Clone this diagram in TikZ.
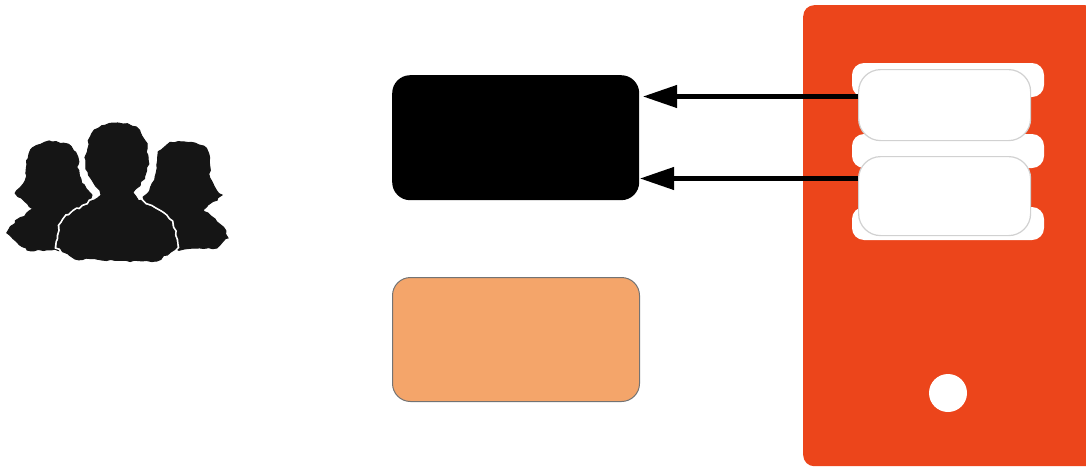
\documentclass[tikz,border=0pt]{standalone}
\usetikzlibrary{arrows.meta,decorations.pathmorphing}
\definecolor{srvred}{HTML}{EC451B}
\definecolor{boxorange}{HTML}{F4A56A}
\definecolor{figblack}{HTML}{151515}
\tikzset{
  bigbox/.style={rounded corners=18pt,minimum width=247pt,minimum height=125pt,inner sep=0pt,anchor=north west},
  slot/.style={draw=black!18,line width=1.2pt,fill=white,rounded corners=22pt,inner sep=0pt,anchor=north west},
  tabpart/.style={fill=white,rounded corners=12pt},
  arr/.style={draw=black,line width=4.2pt,-{Triangle[length=34pt,width=22pt]}},
  person/.style={fill=figblack,draw=figblack,line width=1pt,decorate,decoration={random steps,segment length=4pt,amplitude=1.2pt}},
  personfront/.style={person,preaction={draw=white,line width=4.5pt}}
}
\begin{document}
\begin{tikzpicture}[x=1pt,y=-1pt]
\useasboundingbox (0,0) rectangle (1086,466);
% people
\path[person] (52,142) .. controls (36,142) and (27,148) .. (27,165) .. controls (27,178) and (24,186) .. (15,193)
  -- (33,209) .. controls (24,216) and (12,222) .. (7,233) -- (27,250) -- (75,250) -- (92,195) .. controls (84,188) and (78,178) .. (78,165) .. controls (78,148) and (68,142) .. (52,142) -- cycle;
\path[person] (183,142) .. controls (166,142) and (157,148) .. (157,165) .. controls (157,178) and (152,188) .. (143,197)
  -- (160,250) -- (217,248) -- (228,238) .. controls (224,226) and (212,216) .. (203,210) -- (222,195) .. controls (213,188) and (209,178) .. (210,165) .. controls (210,148) and (200,142) .. (183,142) -- cycle;
\path[personfront] (117,123) .. controls (96,123) and (87,134) .. (86,160) .. controls (86,172) and (93,182) .. (100,190)
  .. controls (100,200) and (78,208) .. (64,220) .. controls (59,228) and (58,238) .. (57,247) -- (75,259) -- (157,261) -- (177,247) .. controls (176,236) and (174,228) .. (171,222)
  .. controls (158,208) and (134,202) .. (134,192) .. controls (142,182) and (148,172) .. (148,160) .. controls (147,134) and (138,123) .. (117,123) -- cycle;
% boxes
\node[bigbox,fill=black] (topbox) at (392,75) {};
\node[bigbox,fill=boxorange,draw=black!55,line width=1pt,minimum height=124pt] (lowbox) at (392,277) {};
% server
\node[fill=srvred,rounded corners=11pt,minimum width=293pt,minimum height=461pt,inner sep=0pt,anchor=north west] (server) at (803,5) {};
\fill[tabpart] (852,63) rectangle (1044,97);
\fill[tabpart] (852,134) rectangle (1044,168);
\fill[tabpart] (852,207) rectangle (1044,240);
\fill[white] (866,70) rectangle (1020,236);
\node[slot,minimum width=172pt,minimum height=71pt] (slotA) at (858,69) {};
\node[slot,minimum width=172pt,minimum height=79pt] (slotB) at (858,156) {};
\node[circle,fill=white,minimum size=38pt,inner sep=0pt] (led) at (948,393) {};
% arrows
\coordinate (a1) at (643,96.5);
\coordinate (a2) at (640,178.5);
\draw[arr] (slotA.west |- a1) -- (a1);
\draw[arr] (slotB.west |- a2) -- (a2);
\end{tikzpicture}
\end{document}
